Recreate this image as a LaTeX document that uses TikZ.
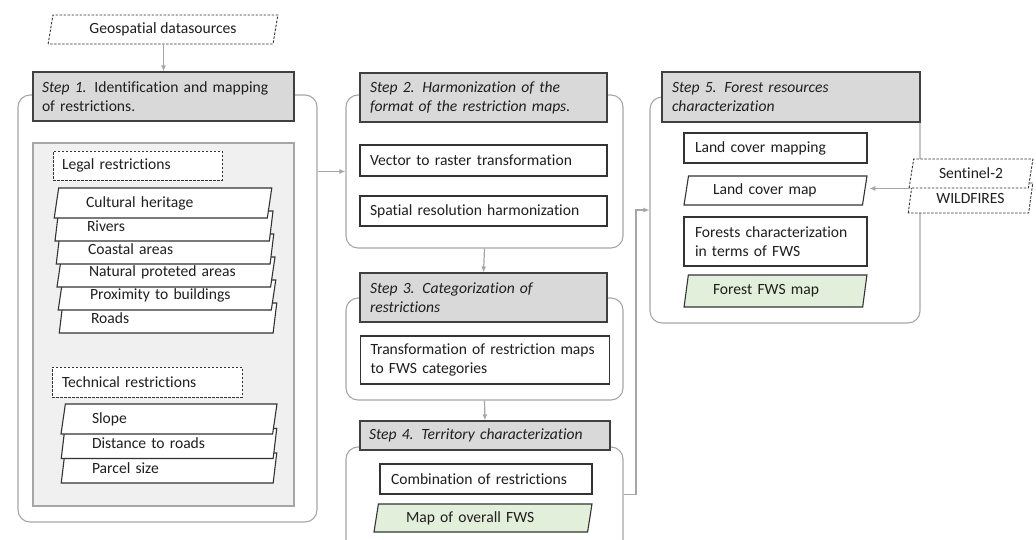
\documentclass[tikz,border=0pt]{standalone}
\usepackage{fontspec}
\setmainfont{Carlito}[Ligatures=NoCommon]
\usetikzlibrary{shapes.geometric,arrows.meta}
\definecolor{hdrgray}{HTML}{D9D9D9}
\definecolor{panelgray}{HTML}{F0F0F0}
\definecolor{linegray}{HTML}{A6A6A6}
\definecolor{mapgreen}{HTML}{E2EFDA}
\definecolor{inkgray}{HTML}{1F1F1F}
\begin{document}
\begin{tikzpicture}[x=1pt, y=-1pt, font=\fontsize{15.6}{19}\selectfont, text=inkgray,
	stepbox/.style={draw=linegray, line width=1.1, rounded corners=12, fill=white, inner sep=0},
	head/.style={draw=black!75, line width=1.1, fill=hdrgray, align=left, inner xsep=9, inner ysep=0},
	box/.style={draw=black!80, line width=1.1, fill=white, align=left, inner xsep=10, inner ysep=0},
	para/.style={trapezium, trapezium left angle=76, trapezium right angle=104, trapezium stretches=true,
		draw=black!80, line width=1.1, fill=white, align=left, inner xsep=2, inner ysep=0},
	dashbox/.style={dash pattern=on 2.5pt off 1.5pt, line width=0.9},
	flow/.style={draw=linegray, line width=1.2, -{Latex[length=6,width=5]}}]
	\useasboundingbox (0,0) rectangle (1036,539);
	\clip (0,0) rectangle (1036,539);
	
	%outer boxes of the steps
	\node (s1box) at (167.5, 308.5) [stepbox, minimum width=299, minimum height=427]{};
	\node (s2box) at (484.5, 171.5) [stepbox, minimum width=277, minimum height=153]{};
	\node (s3box) at (484.5, 349) [stepbox, minimum width=277, minimum height=102]{};
	\node (s4box) at (484.5, 523.5) [stepbox, minimum width=277, minimum height=153]{};
	\node (s5box) at (785, 210) [stepbox, minimum width=270, minimum height=226]{};
	\node (panel) at (163.5, 324.5) [draw=linegray, line width=1.1, fill=panelgray, minimum width=261, minimum height=363]{};
	
	%headers
	\node (s1head) at (163.5, 96.5) [head, text width=243, minimum height=49]{\textit{Step 1.} Identification and mapping\\of restrictions.};
	\node (s2head) at (483.5, 97.5) [head, text width=227, minimum height=49, inner xsep=10]{\itshape Step 2. Harmonization of the\\format of the restriction maps.};
	\node (s3head) at (483.5, 297.5) [head, text width=227, minimum height=49, inner xsep=10]{\itshape Step 3. Categorization of\\restrictions};
	\node (s4head) at (485, 435.5) [head, text width=232, minimum height=29]{\itshape Step 4. Territory characterization};
	\node (s5head) at (791, 97) [head, text width=238, minimum height=50, inner xsep=10]{\itshape Step 5. Forest resources\\characterization};
	
	%step 1
	\node (geo) at (163, 29.5) [para, dashbox, align=center, minimum width=230, minimum height=29]{Geospatial datasources};
	\node (legal) at (137.5, 165.5) [box, dashbox, text width=151, minimum height=29, inner xsep=9]{Legal restrictions};
	\foreach \k/\txt in {5/Roads, 4/Proximity to buildings, 3/Natural proteted areas, 2/Coastal areas, 1/Rivers, 0/Cultural heritage}{
		\node (legal\k) at (163+\k, 203+23*\k) [para, minimum width=218, minimum height=30, text width=154]{\txt};
	}
	\node (tech) at (147, 382) [box, dashbox, text width=170, minimum height=30]{Technical restrictions};
	\foreach \k/\txt in {2/Parcel size, 1/Distance to roads, 0/Slope}{
		\node (tech\k) at (169, 419+24.5*\k) [para, minimum width=216, minimum height=30, text width=154]{\txt};
	}
	
	%step 2, 3, 4
	\node (vec) at (483.5, 160.5) [box, text width=227, minimum height=31]{Vector to raster transformation};
	\node (spat) at (483.5, 211) [box, text width=227, minimum height=30]{Spatial resolution harmonization};
	\node (transf) at (485, 360) [box, text width=229, minimum height=48]{Transformation of restriction maps\\to FWS categories};
	\node (comb) at (486, 479) [box, text width=190, minimum height=30, inner xsep=11]{Combination of restrictions};
	\node (overall) at (483, 518) [para, fill=mapgreen, minimum width=218, minimum height=28, text width=154]{Map of overall FWS};
	
	%step 5
	\node (lcmap) at (775.5, 148) [box, text width=161, minimum height=30, inner xsep=11]{Land cover mapping};
	\node (lcm) at (775.5, 190.5) [para, minimum width=183, minimum height=29, text width=125]{Land cover map};
	\node (fchar) at (775.5, 241.5) [box, text width=161, minimum height=49, inner xsep=11]{Forests characterization\\in terms of FWS};
	\node (ffws) at (775.5, 291) [para, fill=mapgreen, minimum width=183, minimum height=32, text width=125]{Forest FWS map};
	\node (wild) at (970.5, 198) [para, dashbox, align=center, minimum width=125, minimum height=30]{WILDFIRES};
	\node (sen) at (971, 173.5) [para, dashbox, align=center, minimum width=124, minimum height=29]{Sentinel-2};
	
	%connectors
	\coordinate (bend) at (636, 210);
	\draw[flow] (geo.south -| s1head.north) -- (s1head.north);
	\draw[flow] (s1box.east |- s2box.west) -- (s2box.west);
	\draw[flow] (s2box.south) -- (s3head.north);
	\draw[flow] (s3box.south) -- (s4head.north);
	\draw[flow] (s4box.east |- comb.south) -| (bend) -- (s5box.west);
	\draw[flow, shorten >=4] (sen.bottom left corner) -- (lcm.east |- sen.bottom left corner);
\end{tikzpicture}
\end{document}
